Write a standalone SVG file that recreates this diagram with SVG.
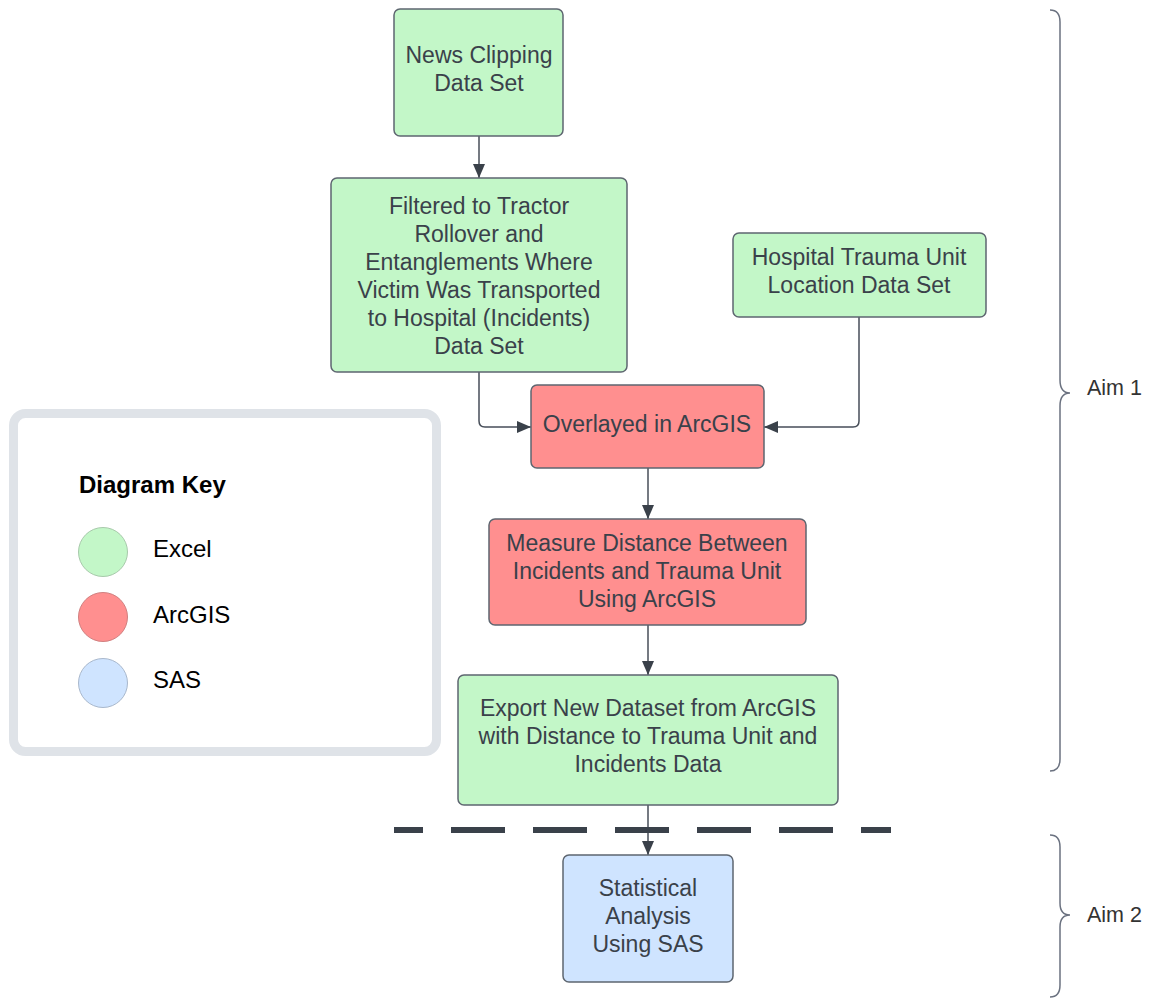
<svg xmlns="http://www.w3.org/2000/svg" width="1151" height="999" viewBox="0 0 1151 999">
<defs>
<marker id="ah" viewBox="0 0 14 12" refX="14" refY="6" markerWidth="14" markerHeight="12" markerUnits="userSpaceOnUse" orient="auto">
<path d="M0,0 L14,6 L0,12 Z" fill="#3a414a"/>
</marker>
<style>
.n{stroke:#5e6670;stroke-width:1.5}
.g{fill:#c3f7c8}.r{fill:#ff8f8f}.b{fill:#cfe4ff}
.t{font-family:"Liberation Sans",Arial,sans-serif;font-size:23px;fill:#3a414a;text-anchor:middle}
.k{font-family:"Liberation Sans",Arial,sans-serif;font-size:24px;fill:#000}
.c{fill:none;stroke:#474e59;stroke-width:1.5}
.br{fill:none;stroke:#6b7280;stroke-width:1.5}
.aim{font-family:"Liberation Sans",Arial,sans-serif;font-size:21.5px;fill:#333}
</style>
</defs>
<rect width="1151" height="999" fill="#fff"/>
<g id="connectors">
<path class="c" d="M479,136 V178" marker-end="url(#ah)"/>
<path class="c" d="M479,372 V421 Q479,427 485,427 H531" marker-end="url(#ah)"/>
<path class="c" d="M859,317 V421 Q859,427 853,427 H764" marker-end="url(#ah)"/>
<path class="c" d="M648,468 V519" marker-end="url(#ah)"/>
<path class="c" d="M648,625 V675" marker-end="url(#ah)"/>
<path class="c" d="M648,805 V855" marker-end="url(#ah)"/>
</g>
<g id="divider">
<line x1="394" y1="830" x2="891" y2="830" stroke="#3a414a" stroke-width="6" stroke-dasharray="54 28" stroke-dashoffset="25"/>
</g>
<g id="news">
<rect class="n g" x="394" y="9" width="169" height="127" rx="6"/>
<text class="t" x="479"><tspan x="479" y="63">News Clipping</tspan><tspan x="479" y="91">Data Set</tspan></text>
</g>
<g id="filtered">
<rect class="n g" x="331" y="178" width="296" height="194" rx="6"/>
<text class="t"><tspan x="479" y="214">Filtered to Tractor</tspan><tspan x="479" y="242">Rollover and</tspan><tspan x="479" y="270">Entanglements Where</tspan><tspan x="479" y="298">Victim Was Transported</tspan><tspan x="479" y="326">to Hospital (Incidents)</tspan><tspan x="479" y="354">Data Set</tspan></text>
</g>
<g id="hospital">
<rect class="n g" x="733" y="233" width="253" height="84" rx="6"/>
<text class="t"><tspan x="859" y="265">Hospital Trauma Unit</tspan><tspan x="859" y="293">Location Data Set</tspan></text>
</g>
<g id="overlayed">
<rect class="n r" x="531" y="385" width="233" height="83" rx="6"/>
<text class="t" x="647" y="432">Overlayed in ArcGIS</text>
</g>
<g id="measure">
<rect class="n r" x="489" y="519" width="317" height="106" rx="6"/>
<text class="t"><tspan x="647" y="551">Measure Distance Between</tspan><tspan x="647" y="579">Incidents and Trauma Unit</tspan><tspan x="647" y="607">Using ArcGIS</tspan></text>
</g>
<g id="export">
<rect class="n g" x="458" y="675" width="380" height="130" rx="6"/>
<text class="t"><tspan x="648" y="716">Export New Dataset from ArcGIS</tspan><tspan x="648" y="744">with Distance to Trauma Unit and</tspan><tspan x="648" y="772">Incidents Data</tspan></text>
</g>
<g id="statistical">
<rect class="n b" x="563" y="855" width="170" height="127" rx="6"/>
<text class="t"><tspan x="648" y="896">Statistical</tspan><tspan x="648" y="924">Analysis</tspan><tspan x="648" y="952">Using SAS</tspan></text>
</g>
<g id="legend">
<rect x="13.5" y="413.5" width="423" height="338" rx="12" fill="#fff" stroke="#dfe3e8" stroke-width="9"/>
<text class="k" x="79" y="493" font-weight="bold">Diagram Key</text>
<circle cx="103" cy="552" r="24.5" fill="#c3f7c8" stroke="#a8c9ab" stroke-width="1"/>
<text class="k" x="153" y="557">Excel</text>
<circle cx="103" cy="617" r="24.5" fill="#ff8f8f" stroke="#d08080" stroke-width="1"/>
<text class="k" x="153" y="623">ArcGIS</text>
<circle cx="103" cy="683" r="24.5" fill="#cfe4ff" stroke="#a9b8cc" stroke-width="1"/>
<text class="k" x="153" y="688">SAS</text>
</g>
<g id="aim1">
<path class="br" d="M1050,10 Q1060,10 1060,22 V380 Q1060,393 1070,393 Q1060,393 1060,406 V759 Q1060,771 1050,771"/>
<text class="aim" x="1087" y="395">Aim 1</text>
</g>
<g id="aim2">
<path class="br" d="M1050,835 Q1060,835 1060,847 V903 Q1060,915 1070,915 Q1060,915 1060,927 V985 Q1060,997 1050,997"/>
<text class="aim" x="1087" y="922">Aim 2</text>
</g>
</svg>
